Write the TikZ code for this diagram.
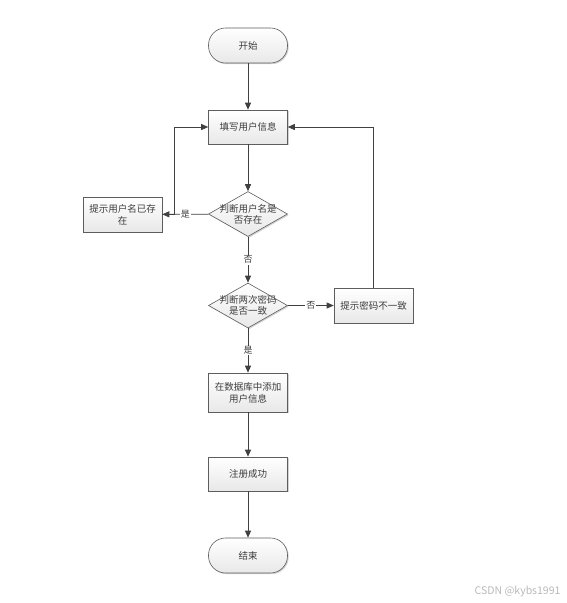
\documentclass[tikz,border=0pt]{standalone}
\usepackage{fontspec}
\setmainfont{Noto Sans CJK SC}
\usetikzlibrary{shapes, arrows.meta, positioning, shadows}
\definecolor{line1}{RGB}{64,64,64}
\definecolor{text1}{RGB}{60,60,60}

\begin{document}
\begin{tikzpicture}[x=1pt, y=-1pt, font=\fontsize{9.5}{12}\selectfont, text=text1,
  box/.style={draw=line1!85, line width=0.6pt, rectangle, minimum width=79pt, minimum height=35pt,
    top color=white, bottom color=gray!18, inner sep=2pt, align=center,
    drop shadow={shadow xshift=1.2pt, shadow yshift=-1.2pt, opacity=0.35, fill=gray}},
  term/.style={box, rounded corners=17pt},
  decision/.style={box, diamond, inner sep=0pt, minimum width=79pt, minimum height=45pt},
  flow/.style={-{Triangle[length=7pt, width=6pt]}, draw=line1, line width=0.8pt},
  tag/.style={fill=white, inner sep=1pt, font=\fontsize{9}{10}\selectfont}]

  \useasboundingbox (0,0) rectangle (566,603);

  % nodes
  \node[term] (start) at (248,45.5) {开始};
  \node[box, minimum height=34pt] (fill) at (248,127) {填写用户信息};
  \node[decision, label={[align=center, font=\fontsize{9.5}{11}\selectfont]center:判断用户名是\\否存在}] (chk1) at (248,214) {};
  \node[box] (hint1) at (122.5,214.5) {提示用户名已存\\在};
  \node[decision, label={[align=center, font=\fontsize{9.5}{11}\selectfont]center:判断两次密码\\是否一致}] (chk2) at (248,305.5) {};
  \node[box] (hint2) at (373.5,305.5) {提示密码不一致};
  \node[box, minimum height=39pt] (adddb) at (248,392.5) {在数据库中添加\\用户信息};
  \node[box, minimum height=34pt] (done) at (248,474) {注册成功};
  \node[term] (finish) at (248,555.5) {结束};

  % connectors
  \draw[flow] (start) -- (fill);
  \draw[flow] (fill) -- (chk1);
  \draw[flow] (chk1) -- node[tag] {是} (hint1);
  \draw[flow] (hint1.east) -- ++(12,0) |- (fill.west);
  \draw[flow] (chk1) -- node[tag] {否} (chk2);
  \draw[flow] (chk2) -- node[tag] {否} (hint2);
  \draw[flow] (hint2) |- (fill.east);
  \draw[flow] (chk2) -- node[tag] {是} (adddb);
  \draw[flow] (adddb) -- (done);
  \draw[flow] (done) -- (finish);

  \node[anchor=east, text=gray!55, font=\fontsize{10.5}{12}\selectfont] (mark) at (564,592) {CSDN @kybs1991};
\end{tikzpicture}
\end{document}
